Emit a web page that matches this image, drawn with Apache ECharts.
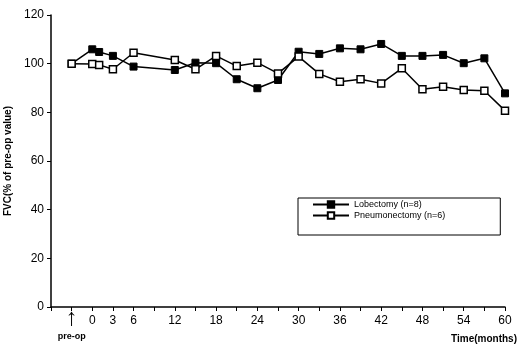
<!DOCTYPE html>
<html>
<head>
<meta charset="utf-8">
<script src="https://cdn.jsdelivr.net/npm/echarts@6/dist/echarts.min.js"></script>
<style>
  html, body { margin: 0; padding: 0; background: #fff; }
  #chartbox { width: 519px; height: 347px; }
</style>
</head>
<body>
<div id="chartbox"></div>
<script>
// months after operation, -3 stands for the pre-op measurement
var months = [-3, 0, 1, 3, 6, 12, 15, 18, 21, 24, 27, 30, 33, 36, 39, 42, 45, 48, 51, 54, 57, 60];
var lobectomy = [100, 105.9, 104.8, 103.2, 98.8, 97.4, 100.4, 100.2, 93.6, 89.9, 93.3, 104.9, 104, 106.3, 105.9, 108.1, 103.2, 103.2, 103.6, 100.2, 102.2, 87.8];
var pneumonectomy = [100, 99.9, 99.5, 97.7, 104.5, 101.5, 97.7, 103.2, 99, 100.4, 96, 102.9, 95.8, 92.6, 93.6, 91.9, 98.1, 89.5, 90.5, 89.2, 88.9, 80.7];
var shownTicks = [0, 3, 6, 12, 18, 24, 30, 36, 42, 48, 54, 60];

var pair = function (ys) {
    return months.map(function (m, i) { return [m, ys[i]]; });
};

var myChart = echarts.init(document.getElementById("chartbox"));
var option = {
    animation: false,
    textStyle: { fontFamily: "Liberation Sans, Arial, sans-serif", color: "#000" },
    grid: { left: 51, right: 14, top: 15, bottom: 40, outerBoundsMode: "none" },
    legend: {
        orient: "vertical",
        left: 298,
        top: 198,
        itemWidth: 36,
        itemHeight: 8,
        itemGap: 2,
        padding: [2, 55, 15, 14],
        borderColor: "#000",
        borderWidth: 1,
        textStyle: { fontSize: 9, color: "#000" },
        data: ["Lobectomy (n=8)", "Pneumonectomy (n=6)"]
    },
    xAxis: {
        type: "value",
        min: -6,
        max: 60,
        interval: 3,
        name: "Time(months)",
        nameLocation: "end",
        nameGap: 12,
        nameTextStyle: { align: "right", verticalAlign: "top", padding: [27, 0, 0, 0], fontSize: 10, fontWeight: "bold", color: "#000" },
        axisLine: { lineStyle: { color: "#000", width: 1.5 } },
        axisTick: { show: true, length: 4, lineStyle: { color: "#000" } },
        splitLine: { show: false },
        axisLabel: {
            fontSize: 12,
            color: "#000",
            margin: 8,
            formatter: function (v) {
                if (v === -3) return "{a|↑}\n{b|pre-op}";
                return shownTicks.indexOf(v) >= 0 ? String(v) : "";
            },
            rich: {
                a: { fontSize: 24, lineHeight: 16, fontWeight: "bold", color: "#000", padding: [-9, 0, 0, 0] },
                b: { fontSize: 9, lineHeight: 12, fontWeight: "bold", color: "#000" }
            }
        }
    },
    yAxis: {
        type: "value",
        min: 0,
        max: 120,
        interval: 20,
        name: "FVC(% of pre-op value)",
        nameLocation: "middle",
        nameGap: 31,
        nameTextStyle: { fontSize: 10, fontWeight: "bold", color: "#000" },
        axisLine: { show: true, onZero: false, lineStyle: { color: "#000", width: 1.5 } },
        axisTick: { show: true, length: 4, lineStyle: { color: "#000" } },
        splitLine: { show: false },
        axisLabel: { fontSize: 12, color: "#000", margin: 7 }
    },
    series: [
        {
            name: "Lobectomy (n=8)",
            type: "line",
            data: pair(lobectomy),
            symbol: "rect",
            symbolSize: 7,
            lineStyle: { color: "#000", width: 1.5 },
            itemStyle: { color: "#000", borderColor: "#000", borderWidth: 1 }
        },
        {
            name: "Pneumonectomy (n=6)",
            type: "line",
            data: pair(pneumonectomy),
            symbol: "rect",
            symbolSize: 7,
            lineStyle: { color: "#000", width: 1.5 },
            itemStyle: { color: "#fff", borderColor: "#000", borderWidth: 1.5 }
        }
    ]
};
myChart.setOption(option);
</script>
</body>
</html>
